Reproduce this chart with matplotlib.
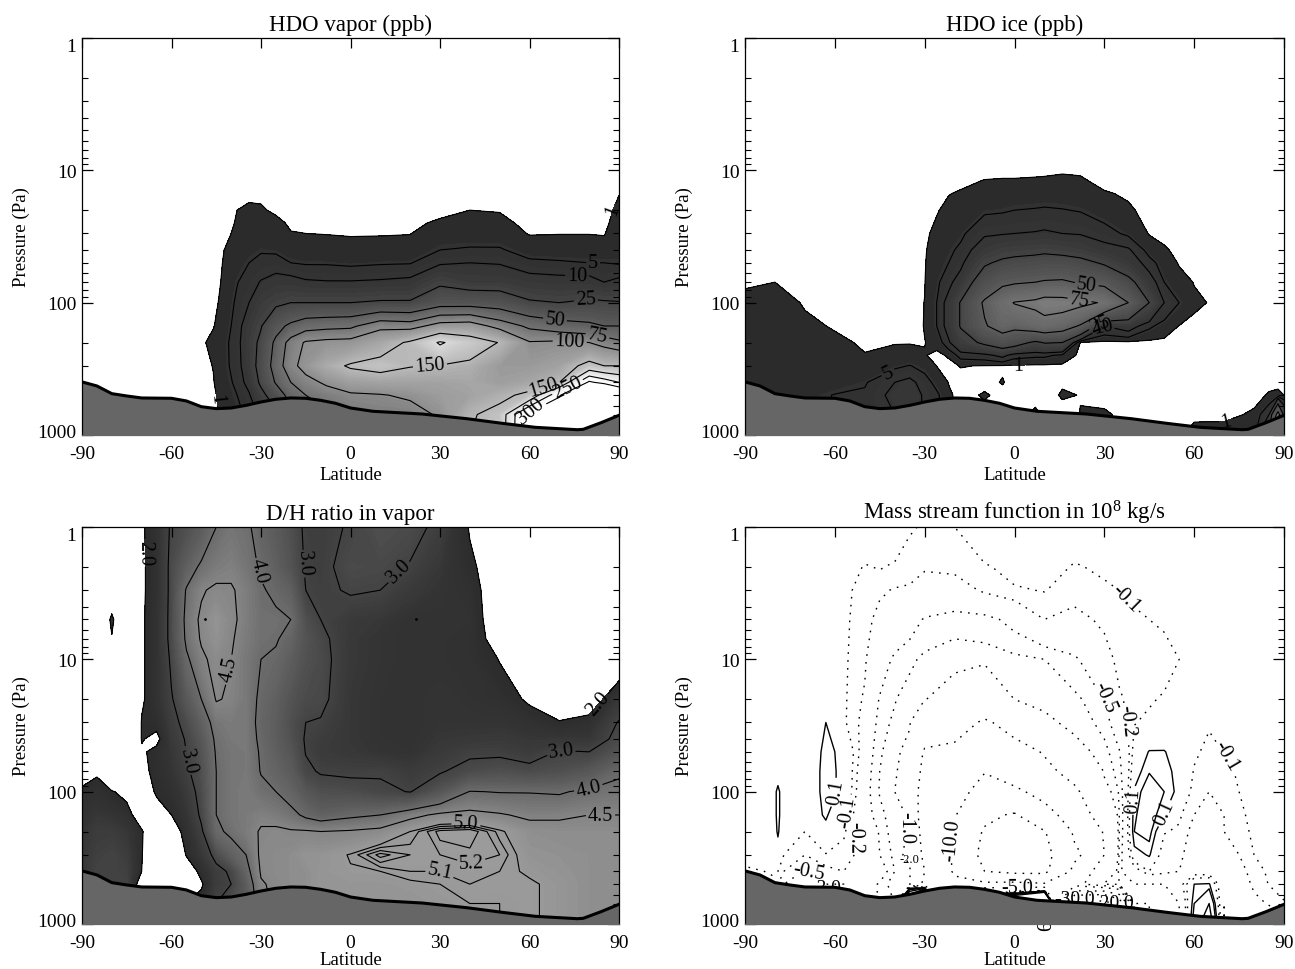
import numpy as np
import matplotlib
matplotlib.use("Agg")
import matplotlib.pyplot as plt
from matplotlib.colors import LinearSegmentedColormap, Normalize
from matplotlib.ticker import FixedLocator, NullFormatter
from matplotlib.transforms import ScaledTranslation

plt.rcParams['font.family'] = ['Liberation Serif', 'DejaVu Serif']
plt.rcParams['mathtext.fontset'] = 'custom'
plt.rcParams['mathtext.rm'] = 'Liberation Serif'
plt.rcParams['mathtext.default'] = 'regular'

# ---- surface pressure (Pa)
surf_lat = [-90,-85,-80,-75,-70,-60,-55,-50,-45,-40,-35,-30,-25,-20,-15,-10,-5,0,7.5,24,39,51,62,76,78,84,90]
surf_p = [397,426,487,507,525,528,553,611,632,625,597,563,537,525,528,547,576,625,662,694,753,817,875,912,906,807,710]

# ---- HDO vapor (ppb): one line per latitude, values at vapor_p
vapor_lat = [-90,-50,-46,-42,-38,-34,-30,-25,-20,-15,-8,0,10,20,30,40,50,60,70,80,85,90]
vapor_p = [15,20,25,30,40,50,70,100,150,200,300,400,500,700,1000]
vapor = [
 [0,0,0,0,0,0,0,0,0,0,0,0,0,0,0],
 [0,0,0,0,0,0,0,0,.1,.4,.1,0,0,0,0],
 [0,0,0,0,0,0,0,.3,.8,2,1.1,.8,.3,.3,.3],
 [0,0,0,.5,1.1,1.3,1.6,2,3,4,4,3.5,3,2,2],
 [0,1,1.3,1.5,2,3,4.8,6,7,7.5,7,6,5,4,4],
 [.8,1.2,1.5,2,3.5,5,7,10,15,17,16,13,9,6,6],
 [.7,1.2,2,3,4.5,6.5,10.5,17,24,29,32,28,20,12,10],
 [.3,.7,1.5,2.8,4.2,7,13,22,42,55,60,52,35,20,15],
 [.1,.3,.7,1.1,2.8,5,13,25,55,85,92,75,60,45,40],
 [.1,.3,.7,1,2.8,4.5,11,25,65,103,110,90,75,60,60],
 [.1,.3,.6,.9,2.5,4.5,10.5,25,68,108,135,105,85,70,70],
 [.1,.2,.5,.8,2,4,10.5,25,70,110,155,120,95,80,80],
 [.1,.2,.5,.8,2.3,4.5,11,27,92,130,165,125,98,85,80],
 [.1,.3,.6,.9,2.5,4.7,12,27,88,156,152,125,105,85,85],
 [.2,.5,1.3,3,5,9,22,40,112,205,148,125,118,105,105],
 [.4,1,2,3,5.5,10,17,40,115,175,140,130,125,145,150],
 [.4,.9,1.5,2.8,5.5,9.5,17,38,90,148,115,120,140,165,170],
 [.1,.2,.5,.8,3,6,14,27,70,102,115,130,160,330,330],
 [.1,.2,.5,.9,3,5.5,13,25,60,105,125,150,290,400,400],
 [.1,.2,.5,.9,3,5,13,28,55,100,165,310,500,700,700],
 [.1,.3,.5,.8,2.5,5,10,27,50,90,150,280,500,800,800],
 [.95,1.5,2,3,4,4.5,12,26,50,80,150,250,400,700,700],
]
vapor_levels = [1,5,10,25,50,75,100,150,200,250,300]
vapor_labels = [(81.3,45.5),(76,57),(79,100),(68.6,132),(83,168),(73.5,192),(26.6,285),
                (72.6,428),(60.8,680),(65,450),(-42,525),(88.6,20)]

# ---- HDO ice (ppb)
ice_lat = [-90,-80,-70,-60,-50,-40,-35,-30,-26,-22,-18,-10,-4,0,7,10,16,22,30,38,45,50,55,60,65,70,80,85,88,90]
ice_p = [10,12,15,20,30,40,50,70,100,150,200,250,300,400,500,700,1000]
ice = [
 [0,0,0,0,0,0,0,.8,1.5,2,2.2,2.4,2.5,3,3,3,3],
 [0,0,0,0,0,0,0,1,2,2.5,2.7,2.9,3,3,3,3,3],
 [0,0,0,0,0,0,0,0,.8,1.5,1.8,1.9,2,2.5,3.5,3.5,3.5],
 [0,0,0,0,0,0,0,0,0,.8,1.5,1.8,2,3,5.2,5,5],
 [0,0,0,0,0,0,0,0,0,0,.7,1.1,1.5,4.5,5.8,6,6],
 [0,0,0,0,0,0,0,0,0,0,.9,1.6,4,10,12,10,10],
 [0,0,0,0,0,0,0,0,0,0,.9,1.8,5.2,12,14,14,14],
 [0,0,0,0,.5,.7,.8,.9,1.05,1.1,.95,1.1,3.5,7,9,9,9],
 [0,0,0,.8,1.7,2.5,3,4,5,5,1.6,.6,.95,3.5,6,6,6],
 [0,0,.9,1.7,3,4,5,8,13,13,9,1.2,.5,.9,1.5,1.5,1.5],
 [0,.4,1.3,2.5,4,6,8,14,26,26,18,7,1.1,.2,.1,.1,.1],
 [.3,1.1,2,4.2,9,15,23,36,53,48,28,8,.9,.3,1.3,0,0],
 [.4,1.2,2.5,4.5,9.5,19,28,46,68,60,35,12,.7,1.15,.3,0,0],
 [.4,1.2,2.8,5,10,20,30,48,76,55,32,7,.6,.2,.2,0,0],
 [.5,1.3,3,5.3,10.5,21,32,50,80,62,22,6,.4,.2,.3,1.5,1.5],
 [.5,1.4,3.1,5.5,11,22,33,52,85,65,26,6,.4,.1,.3,.5,.5],
 [.7,1.6,3,5.2,10,20,33,53,84,60,25,4,.3,.8,1.2,.2,.2],
 [.6,1.4,2.5,4.7,9.5,18,30,48,80,48,.8,0,.3,.4,.95,1.05,1],
 [0,.2,1.3,2.9,7,13,23,45,73,10,.2,0,0,0,.2,1.4,1.4],
 [0,0,.6,1.5,4,11,15,30,50,14,.2,0,0,0,0,.2,.2],
 [0,0,0,0,.8,3,7,14,25,6,.1,0,0,0,0,0,0],
 [0,0,0,0,0,1.5,2.5,5,10,3,.2,0,0,0,0,0,0],
 [0,0,0,0,0,0,.8,2,5,.9,0,0,0,0,0,0,0],
 [0,0,0,0,0,0,0,.9,1.5,.3,0,0,0,0,0,0,3],
 [0,0,0,0,0,0,0,0,.9,0,0,0,0,0,0,.1,3],
 [0,0,0,0,0,0,0,0,0,0,0,0,0,0,0,.1,3],
 [0,0,0,0,0,0,0,0,0,0,0,0,0,0,.1,1.5,3],
 [0,0,0,0,0,0,0,0,0,0,0,0,0,.3,1.3,10,30],
 [0,0,0,0,0,0,0,0,0,0,0,0,0,.4,1.6,60,100],
 [0,0,0,0,0,0,0,0,0,0,0,0,0,.2,1,20,100],
]
ice_levels = [1,5,10,25,50,75,100]
ice_labels = [(24.3,67),(21.9,88.7),(-42.5,328),(1.4,305),(70.4,760),(28.5,145),(30,159)]

# ---- D/H ratio
dh_lat = [-90,-85,-80,-75,-70,-65,-60,-55,-50,-45,-40,-35,-30,-25,-20,-15,-10,0,10,20,30,40,50,60,70,80,90]
dh_p = [1,2,3,5,7,10,20,30,40,50,70,100,150,200,300,400,500,700,1000]
dh = [
 [0,0,0,0,0,0,0,0,0,0,1.5,2.2,2.4,2.5,2.6,2.6,2.6,2.6,2.6],
 [0,0,0,0,0,0,0,0,0,0,1.9,2.3,2.6,2.8,2.9,3,3,3,3],
 [1,1,1,2.3,1.9,1,0,0,0,0,1,2.05,2.5,2.8,3,3,3,3,3],
 [0,0,0,0,0,0,0,0,0,0,0,1.8,2.3,2.6,2.8,2.9,3,3,3],
 [1.9,1.9,1.9,1.9,1.9,1.9,1.9,2.05,2.05,1.9,1.8,1.5,1.5,2.1,2.1,2,1.5,1,1],
 [2.4,2.3,2.3,2.4,2.4,2.4,2.4,2.2,1.8,2.2,2.2,2.1,1.6,1,0,0,0,0,0],
 [3.1,3.2,3.2,3.2,3.2,3.1,2.95,2.8,2.7,2.6,2.5,2.3,2,1.5,1,0,0,0,0],
 [3.3,3.7,4.05,4.15,4.1,3.9,3.5,3.2,3.05,3,2.9,2.7,2.5,2.3,2.05,1.5,1.2,2,2],
 [3.6,4.1,4.45,4.6,4.55,4.4,4,3.7,3.5,3.4,3.3,3.2,3.1,2.9,2.6,2.2,1.9,2.3,2.5],
 [4,4.3,4.6,4.85,4.8,4.65,4.53,4.2,4.1,4.05,4,4,4,3.9,3.2,2.8,2.8,3,3],
 [4.2,4.4,4.55,4.6,4.55,4.5,4.45,4.3,4.25,4.2,4.2,4.2,4.2,4.1,3.7,3.1,3,3.3,3.3],
 [4.1,4.2,4.35,4.35,4.3,4.25,4.25,4.25,4.25,4.25,4.25,4.3,4.3,4.3,4,3.8,3.6,3.5,3.5],
 [3.8,3.95,4.05,4.1,4.1,4,3.9,3.85,3.9,3.95,3.98,4.1,4.4,4.55,4.6,4.55,4.45,4.3,4.3],
 [3.6,3.7,3.9,4.1,4.05,3.9,3.7,3.65,3.65,3.7,3.8,4,4.3,4.6,4.65,4.65,4.6,4.6,4.6],
 [3.3,3.4,3.7,4,3.8,3.65,3.4,3.3,3.35,3.45,3.6,3.8,4.15,4.55,4.7,4.7,4.7,4.7,4.7],
 [2.9,2.95,3,3.3,3.4,3.35,3.2,3,2.95,2.98,3.1,3.5,3.9,4.55,4.85,4.75,4.75,4.75,4.75],
 [2.85,2.85,2.9,3,3.15,3.2,3.15,2.95,2.8,2.75,2.95,3.3,3.75,4.5,4.85,4.9,4.9,4.9,4.9],
 [3.05,3.2,3.05,2.7,2.65,2.65,2.6,2.6,2.6,2.65,2.9,3.25,3.9,4.55,5.02,4.98,4.9,4.9,4.9],
 [3.3,3.15,3,2.6,2.5,2.5,2.45,2.45,2.45,2.5,2.95,3.1,4,4.65,5.35,5,4.9,4.9,4.9],
 [3.2,2.95,2.7,2.4,2.4,2.4,2.4,2.4,2.4,2.45,2.75,2.98,4.35,5,5.2,5.1,4.95,4.85,4.85],
 [2.85,2.6,2.5,2.4,2.4,2.4,2.5,2.5,2.6,2.7,2.95,3.45,4.6,5.35,5.2,5.1,5,4.95,4.95],
 [1.95,2.15,2.3,2.4,2.35,2.35,2.4,2.5,2.65,2.9,3.2,4.02,4.65,5.4,5.25,5.15,5.1,5,5],
 [1.5,1.5,1.5,1.5,1.7,1.98,2.3,2.5,2.7,2.9,3.3,3.98,4.55,5.05,5.2,5.1,5.05,5,5],
 [1,1,1,1,1,1,1.9,2.35,2.6,2.75,3.2,3.98,4.4,4.75,4.85,4.95,5.05,5.05,5.05],
 [1,1,1,1,1,1,1,2.1,2.6,3.05,3.3,3.95,4.42,4.7,4.8,4.85,4.9,4.9,4.9],
 [0,0,0,0,0,0,1.5,2.3,2.6,3,3.5,4.1,4.5,4.7,4.75,4.75,4.75,4.75,4.75],
 [0,0,0,0,0,1.5,2.6,3.05,3.2,3.4,3.9,4.2,4.5,4.7,4.75,4.75,4.75,4.75,4.75],
]
dh_levels = [2,3,4,4.5,5,5.1,5.2,5.3]
dh_labels = [(-69.1,1.55),(81.7,20.4),(-55,58),(-16.4,1.84),(14,1.95),(70.6,45),(-29.3,2.07),
             (79.6,88.5),(-40,11.8),(83.8,134),(38.7,170),(30,400),(40,320)]
dh_dots_lat = [-48.7,22]
dh_dots_p = [5,5]

# ---- mass stream function (1e8 kg/s)
psi_lat = [-90,-81,-79,-77,-70,-63,-57,-50,-45,-40,-35,-30,-20,-10,0,10,20,30,35,40,45,50,55,60,65,70,75,80,90]
psi_p = [1,2,3,5,10,20,30,50,70,100,150,200,300,400,500,700,1000]
psi = [
 [0,0,0,0,0,0,0,0,0,0,0,0,0,-.15,-.5,-.5,-.5],
 [0,0,0,0,0,0,0,0,0,0,0,0,-.02,-.08,-.15,-.5,-.5],
 [0,0,0,0,0,0,0,0,.02,.14,.14,.12,.02,-.1,-.2,-.5,-.5],
 [0,0,0,0,0,0,0,0,0,0,0,-.02,-.1,-.2,-.5,-.7,-.7],
 [0,0,0,0,0,0,0,0,0,0,0,-.1,-.2,-.55,-.6,-.6,-.6],
 [0,0,0,0,0,.01,.1,.13,.14,.14,.12,.05,-.11,-.25,-.5,-.5,-.5],
 [0,-.03,-.08,-.08,-.08,-.08,-.08,.07,.07,.07,-.05,-.08,-.15,-.2,-.5,-.5,-.5],
 [-.01,-.11,-.13,-.15,-.18,-.22,-.25,-.3,-.35,-.38,-.38,-.3,-.25,-.22,-.3,-.3,-.3],
 [0,-.09,-.18,-.25,-.38,-.52,-.58,-.66,-.7,-.72,-.62,-.52,-.5,-.3,-.54,-.54,-.54],
 [0,-.12,-.21,-.35,-.54,-.68,-.76,-.88,-.94,-1,-.85,-.85,-.76,-.7,-.85,-.7,-.7],
 [-.09,-.15,-.22,-.4,-.64,-.85,-.95,-1.2,-1.3,-1.2,-1.05,-1.05,-1.2,-.85,-1,5,5],
 [-.11,-.18,-.3,-.52,-.76,-.97,-2.33,-5.5,-6.5,-8,-8,-7,-6,-5,-6,30,30],
 [-.1,-.16,-.3,-.6,-.85,-1.4,-3.4,-6,-7,-8,-9.5,-10.2,-10.5,-10.5,-9,-30,-30],
 [-.03,-.11,-.17,-.58,-.82,-2.73,-5.5,-7,-9.8,-12,-18,-21,-23,-20,-8,10,10],
 [-.02,-.07,-.11,-.42,-.76,-.98,-3.67,-6.5,-8.2,-10.8,-21,-26,-28,-22,-7.5,10,10],
 [-.01,-.05,-.095,-.2,-.7,-.88,-1.13,-4.73,-6,-8.6,-12,-20.5,-23,-22,-9,20,20],
 [-.04,-.11,-.15,-.25,-.54,-.76,-.85,-1.27,-3.67,-5.8,-7.5,-9,-11.5,-8,-7,-50,-50],
 [-.02,-.08,-.12,-.17,-.28,-.52,-.62,-.78,-.91,-1.27,-3,-4.73,-5,-3,-.85,-60,-60],
 [0,-.05,-.1,-.12,-.15,-.23,-.3,-.52,-.58,-.66,-.7,-.7,-.62,-.54,-.7,-40,-40],
 [0,-.03,-.09,-.11,-.13,-.12,-.105,-.04,.02,.12,.18,.2,.03,-.3,-.5,-.7,-.7],
 [0,-.03,-.07,-.1,-.14,-.11,-.08,.11,.19,.3,.3,.25,.12,-.1,-.5,-.7,-.7],
 [0,0,-.03,-.09,-.13,-.09,-.05,.11,.15,.2,.09,-.09,-.2,-.15,-.5,-.6,-.6],
 [0,-.01,-.03,-.06,-.1,-.07,-.03,.01,.05,.05,-.08,-.12,-.12,-.2,-.3,-.5,-.5],
 [0,0,0,-.03,-.06,-.03,-.02,-.08,-.11,-.15,-.2,-.25,-.4,-.3,.1,.2,.3],
 [0,0,0,0,0,-.02,-.09,-.13,-.16,-.2,-.3,-.4,-.45,-.3,.12,.5,.8],
 [0,0,0,0,0,0,-.02,-.1,-.14,-.15,-.2,-.2,-.2,-.3,-.4,-.5,-.5],
 [0,0,0,0,0,0,0,-.03,-.08,-.1,-.13,-.14,-.2,-.25,-.3,-.3,-.3],
 [0,0,0,0,0,0,0,0,0,-.03,-.06,-.08,-.1,-.15,-.17,-.25,-.25],
 [0,0,0,0,0,0,0,0,0,0,0,0,0,-.01,-.02,-.12,-.3],
]
psi_levels = [-50,-30,-20,-10,-5,-1,-.7,-.5,-.2,-.1,.1,.2,.5,1,2]
psi_labels = [(38.1,3.3),(69.7,54.7),(29.8,19.3),(36.7,29),(-58.5,100),(-55.5,142),(-53,220),(-36,185),
              (-17.6,233),(1,531),(-67.7,371),(40.3,116),(49.5,142)]
psi_stray_text = ['-2.0','-3.0','-30.0','-20.0','9']
psi_stray_lat = [-35,-63,20,33,8.5]
psi_stray_p = [320,530,640,690,1010]
psi_stray_size = [9,14,14,14,14.5]

x_ticks = [-90,-60,-30,0,30,60,90]
x_tick_labels = ['-90','-60','-30','0','30','60','90']
y_ticks = [1,10,100,1000]
y_tick_labels = ['1','10','100','1000']
titles = ['HDO vapor (ppb)','HDO ice (ppb)','D/H ratio in vapor','Mass stream function in 10$^{8}$ kg/s']

W, H = 1295, 970
fig = plt.figure(figsize=(W/100, H/100), dpi=100, facecolor='white')

def make_axes(x0, x1, y0, y1, title, xpad=3):
    ax = fig.add_axes([x0/W, 1-y1/H, (x1-x0)/W, (y1-y0)/H])
    ax.set_xscale('linear'); ax.set_yscale('log')
    ax.set_xlim(-90, 90); ax.set_ylim(1000, 1)
    ax.set_xticks(x_ticks); ax.set_xticklabels(x_tick_labels, fontsize=14)
    ax.set_yticks(y_ticks); ax.set_yticklabels(y_tick_labels, fontsize=14)
    minors = [m*10**e for e in range(3) for m in range(2, 10)]
    ax.yaxis.set_minor_locator(FixedLocator(minors))
    ax.yaxis.set_minor_formatter(NullFormatter())
    ax.tick_params(axis='x', which='major', direction='in', top=True, bottom=False, length=7, width=.9, pad=7)
    ax.tick_params(axis='y', which='major', direction='in', left=True, right=True, length=8, width=.9, pad=4)
    ax.tick_params(axis='y', which='minor', direction='in', left=True, right=True, length=4, width=.8)
    labs = ax.get_yticklabels()
    labs[0].set_verticalalignment('top')
    labs[-1].set_verticalalignment('bottom')
    labs[-1].set_transform(labs[-1].get_transform() + ScaledTranslation(0, -6/100, fig.dpi_scale_trans))
    ax.set_xlabel('Latitude', fontsize=13.6, labelpad=xpad)
    ax.set_ylabel('Pressure (Pa)', fontsize=13.6, labelpad=5)
    ax.set_title(title, fontsize=16.5, pad=6)
    for s in ax.spines.values():
        s.set_linewidth(.9)
    ax.spines['bottom'].set_color('#666666')
    return ax

def add_ground(ax):
    ax.fill_between(surf_lat, surf_p, 1000, color='#666666', lw=0, zorder=2.2)
    ax.plot(surf_lat, surf_p, color='k', lw=2.2, zorder=2.3)

def gray_cmap(vals, grays):
    v0, v1 = vals[0], vals[-1]
    return LinearSegmentedColormap.from_list(
        'g', [((v-v0)/(v1-v0), (g, g, g)) for v, g in zip(vals, grays)], N=256), Normalize(v0, v1)

def shaded(ax, lat, p, field, vals, grays, levels, labels, fmt, n=90):
    Z = np.array(field, float).T
    cmap, norm = gray_cmap(vals, grays)
    fill = np.linspace(vals[0], vals[-1], n)
    ax.contourf(lat, p, Z, levels=fill, cmap=cmap, norm=norm, antialiased=False, zorder=1)
    cs = ax.contour(lat, p, Z, levels=levels, colors='k', linewidths=.8, zorder=1.5)
    ax.clabel(cs, fmt=fmt, fontsize=14.5, manual=labels, inline_spacing=2)

vapor_vals = [1,5,10,25,50,75,100,150,200,250,300]
vapor_grays = [.16,.19,.2,.27,.36,.45,.55,.72,.85,.95,1.]
dh_vals = [2,2.5,3,4,4.5,5,5.5,7]
dh_grays = [.17,.2,.26,.42,.52,.6,.62,.62]

# HDO vapor
ax = make_axes(82, 619, 39, 436, titles[0])
shaded(ax, vapor_lat, vapor_p, vapor, vapor_vals, vapor_grays, vapor_levels, vapor_labels, '%d')
add_ground(ax)

# HDO ice
ax = make_axes(745, 1284, 39, 436, titles[1])
shaded(ax, ice_lat, ice_p, ice, vapor_vals, vapor_grays, ice_levels, ice_labels, '%d')
add_ground(ax)

# D/H
ax = make_axes(82, 619, 528, 925, titles[2], xpad=0.5)
shaded(ax, dh_lat, dh_p, dh, dh_vals, dh_grays, dh_levels, dh_labels, '%.1f')
ax.plot(dh_dots_lat, dh_dots_p, 'k.', ms=2, zorder=1.6)
add_ground(ax)

# stream function
ax = make_axes(745, 1284, 528, 925, titles[3], xpad=0.5)
styles = [(0, (1.2, 4.5)) if l < 0 else 'solid' for l in psi_levels]
Zpsi = np.array(psi, float).T
cs = ax.contour(psi_lat, psi_p, Zpsi, levels=psi_levels, colors='k', linewidths=1, linestyles=styles, zorder=1.5)
ax.clabel(cs, fmt='%.1f', fontsize=14.5, manual=psi_labels, inline_spacing=2)
for t, la, pr, sz in zip(psi_stray_text, psi_stray_lat, psi_stray_p, psi_stray_size):
    ax.text(la, pr, t, fontsize=sz, ha='center', va='center', rotation=-90 if t == '9' else 0,
            clip_on=False, zorder=1.6)
add_ground(ax)

fig.savefig('out.png', dpi=100, facecolor='white')
